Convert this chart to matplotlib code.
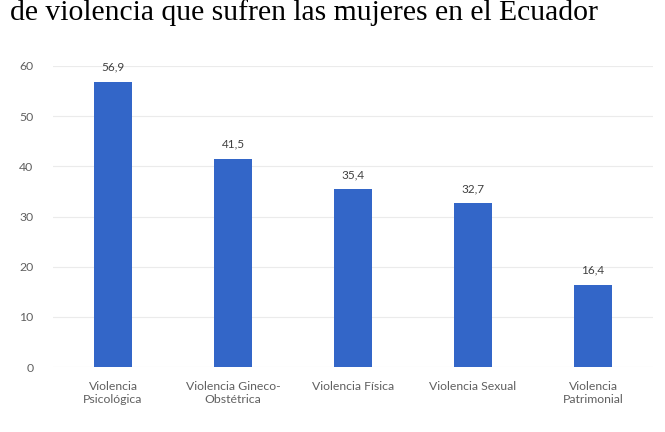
import matplotlib
matplotlib.use("Agg")
import matplotlib.pyplot as plt

categories = ["Violencia\nPsicológica", "Violencia Gineco-\nObstétrica", "Violencia Física",
              "Violencia Sexual", "Violencia\nPatrimonial"]
values = [56.9, 41.5, 35.4, 32.7, 16.4]
value_labels = ["56,9", "41,5", "35,4", "32,7", "16,4"]
yticks = [0, 10, 20, 30, 40, 50, 60]
title = "de violencia que sufren las mujeres en el Ecuador"

fig = plt.figure(figsize=(6.65, 4.32), dpi=100)
ax = fig.add_axes([53/665, 1-367/432, 600/665, (367-66)/432])

x = list(range(len(categories)))
ax.bar(x, values, width=0.31, color="#3366c8", zorder=3)
for xi, v, lab in zip(x, values, value_labels):
    ax.text(xi, v + 1.8, lab, ha="center", va="bottom", fontsize=8.5,
            color="#404040", family="Lato")

ax.set_xlim(-0.5, 4.5)
ax.set_ylim(0, 60)
ax.set_yticks(yticks)
ax.set_yticklabels([str(t) for t in yticks])
ax.set_xticks(x)
ax.set_xticklabels(categories)
ax.grid(axis="y", color="#ebebeb", linewidth=0.8, zorder=0)
for s in ax.spines.values():
    s.set_visible(False)
ax.tick_params(axis="both", length=0, colors="#606060", labelsize=8.8)
ax.tick_params(axis="y", pad=14)
ax.tick_params(axis="x", pad=10)
for t in ax.get_xticklabels() + ax.get_yticklabels():
    t.set_family("Lato")

fig.text(10/665, 1-20/432, title, ha="left", va="baseline", fontsize=21.3,
         family="Liberation Serif", color="black")

fig.savefig("out.png", dpi=100)
